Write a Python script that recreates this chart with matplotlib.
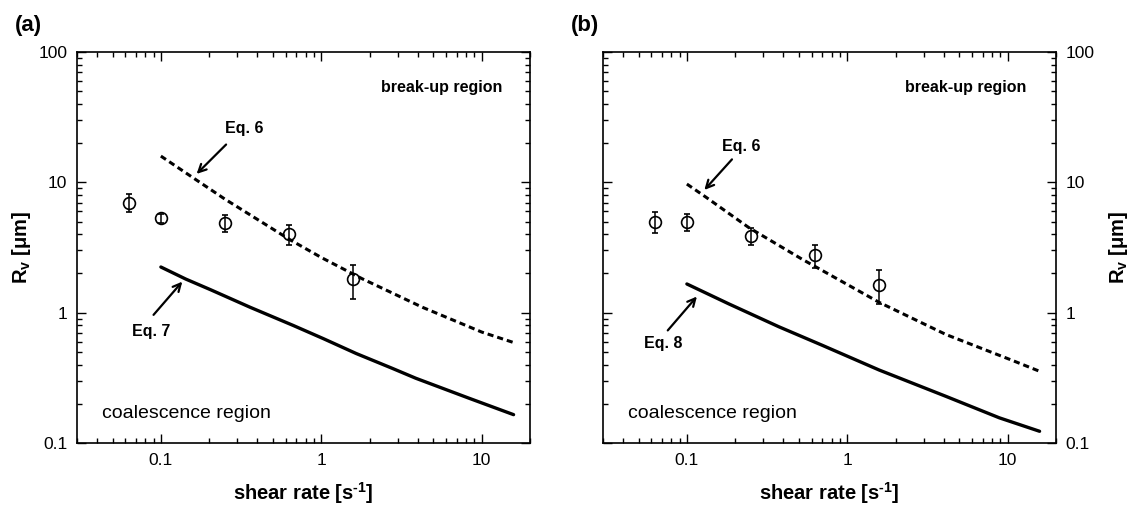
import numpy as np
import matplotlib
matplotlib.use("Agg")
import matplotlib.pyplot as plt
from matplotlib.ticker import FixedLocator, LogLocator, NullFormatter, FixedFormatter

plt.rcParams['font.family'] = ['Liberation Sans', 'DejaVu Sans']
plt.rcParams['mathtext.fontset'] = 'custom'
plt.rcParams['mathtext.rm'] = 'Liberation Sans:bold'
plt.rcParams['mathtext.bf'] = 'Liberation Sans:bold'
plt.rcParams['mathtext.default'] = 'bf'

# measured points (same shear rates in both panels)
shear = [0.063, 0.1, 0.25, 0.63, 1.58]
rv_a = [7.0, 5.3, 4.9, 4.0, 1.81]
err_a = [1.1, 0.42, 0.72, 0.7, 0.53]
rv_b = [5.0, 5.0, 3.9, 2.77, 1.64]
err_b = [0.88, 0.73, 0.6, 0.56, 0.47]

# Eq. 6 (dashed), panel a
eq6a_x = [0.1, 0.165, 0.25, 0.635, 1.0, 1.8, 4.27, 10.0, 15.8]
eq6a_y = [15.9, 10.5, 7.45, 3.64, 2.65, 1.82, 1.10, 0.71, 0.59]
# Eq. 7 (solid), panel a
eq7_x = [0.1, 0.143, 0.204, 0.36, 0.668, 1.03, 1.65, 2.77, 3.88, 8.3, 15.8]
eq7_y = [2.24, 1.81, 1.50, 1.10, 0.798, 0.632, 0.486, 0.374, 0.314, 0.221, 0.165]

# Eq. 6 (dashed), panel b
eq6b_x = [0.1, 0.13, 0.243, 0.523, 1.58, 4.12, 10.7, 15.8]
eq6b_y = [9.7, 7.77, 4.5, 2.57, 1.20, 0.68, 0.43, 0.355]
# Eq. 8 (solid), panel b
eq8_x = [0.1, 0.182, 0.374, 0.698, 1.58, 4.12, 8.87, 15.8]
eq8_y = [1.66, 1.17, 0.78, 0.562, 0.363, 0.228, 0.156, 0.123]

x_ticks = [0.1, 1, 10]
x_ticklabels = ['0.1', '1', '10']
y_ticks = [0.1, 1, 10, 100]
y_ticklabels = ['0.1', '1', '10', '100']

fig = plt.figure(figsize=(11.31, 5.09), dpi=100)
ax_a = fig.add_axes([77 / 1131, 1 - 443 / 509, 453 / 1131, 391 / 509])
ax_b = fig.add_axes([603 / 1131, 1 - 443 / 509, 453 / 1131, 391 / 509])


def style_axes(ax, right_labels=False):
    ax.set_xscale('log')
    ax.set_yscale('log')
    ax.set_xlim(0.03, 20)
    ax.set_ylim(0.1, 100)
    ax.xaxis.set_major_locator(FixedLocator(x_ticks))
    ax.xaxis.set_major_formatter(FixedFormatter(x_ticklabels))
    ax.yaxis.set_major_locator(FixedLocator(y_ticks))
    ax.yaxis.set_major_formatter(FixedFormatter(y_ticklabels))
    ax.xaxis.set_minor_locator(LogLocator(base=10, subs=np.arange(2, 10)))
    ax.yaxis.set_minor_locator(LogLocator(base=10, subs=np.arange(2, 10)))
    ax.xaxis.set_minor_formatter(NullFormatter())
    ax.yaxis.set_minor_formatter(NullFormatter())
    for s in ax.spines.values():
        s.set_linewidth(1.2)
    ax.tick_params(which='both', direction='in', top=True, right=True,
                   left=True, bottom=True, width=1.0, labelsize=12.5, pad=7)
    ax.tick_params(which='major', length=6.5)
    ax.tick_params(which='minor', length=3.5)
    if right_labels:
        ax.tick_params(which='both', labelleft=False, labelright=True)
        ax.yaxis.set_label_position('right')
    ax.set_xlabel(r'shear rate [s$^{\text{-1}}$]', fontsize=14.5, fontweight='bold', labelpad=9)
    ax.set_ylabel(r'R$_{v}$ [μm]', fontsize=14.5, fontweight='bold',
                  labelpad=4 if not right_labels else 9)


def draw_panel(ax, rv, err, dx, dy, sx, sy):
    ax.plot(dx, dy, color='black', lw=2.2, ls=(0, (2.0, 1.3)))
    ax.plot(sx, sy, color='black', lw=2.4, solid_capstyle='round')
    ax.errorbar(shear, rv, yerr=err, fmt='o', mfc='none', mec='black',
                ms=8.5, mew=1.2, ecolor='black', elinewidth=1.1, capsize=2.5,
                capthick=1.1)


style_axes(ax_a)
draw_panel(ax_a, rv_a, err_a, eq6a_x, eq6a_y, eq7_x, eq7_y)
style_axes(ax_b, right_labels=True)
draw_panel(ax_b, rv_b, err_b, eq6b_x, eq6b_y, eq8_x, eq8_y)

arrow = dict(arrowstyle='->', color='black', lw=1.6,
             shrinkA=0, shrinkB=0, mutation_scale=14)

# panel a annotations
ax_a.annotate('', xy=(0.167, 11.6), xytext=(0.255, 19.5), arrowprops=arrow)
ax_a.text(0.331, 25.9, 'Eq. 6', fontsize=11.5, fontweight='bold', ha='center', va='center')
ax_a.annotate('', xy=(0.136, 1.73), xytext=(0.090, 0.962), arrowprops=arrow)
ax_a.text(0.0867, 0.718, 'Eq. 7', fontsize=11.5, fontweight='bold', ha='center', va='center')

# panel b annotations
ax_b.annotate('', xy=(0.1285, 8.74), xytext=(0.191, 15.0), arrowprops=arrow)
ax_b.text(0.218, 19.0, 'Eq. 6', fontsize=11.5, fontweight='bold', ha='center', va='center')
ax_b.annotate('', xy=(0.1155, 1.33), xytext=(0.076, 0.731), arrowprops=arrow)
ax_b.text(0.071, 0.579, 'Eq. 8', fontsize=11.5, fontweight='bold', ha='center', va='center')

for ax, rx in ((ax_a, 0.940), (ax_b, 0.934)):
    ax.text(rx, 0.91, 'break-up region', transform=ax.transAxes, fontsize=11.5,
            fontweight='bold', ha='right', va='center')
    ax.text(0.055, 0.076, 'coalescence region', transform=ax.transAxes,
            fontsize=14, ha='left', va='center')

fig.text(28 / 1131, 1 - 26 / 509, '(a)', fontsize=16, fontweight='bold', ha='center', va='center')
fig.text(585 / 1131, 1 - 26 / 509, '(b)', fontsize=16, fontweight='bold', ha='center', va='center')

fig.savefig('out.png', dpi=100, facecolor='white')
